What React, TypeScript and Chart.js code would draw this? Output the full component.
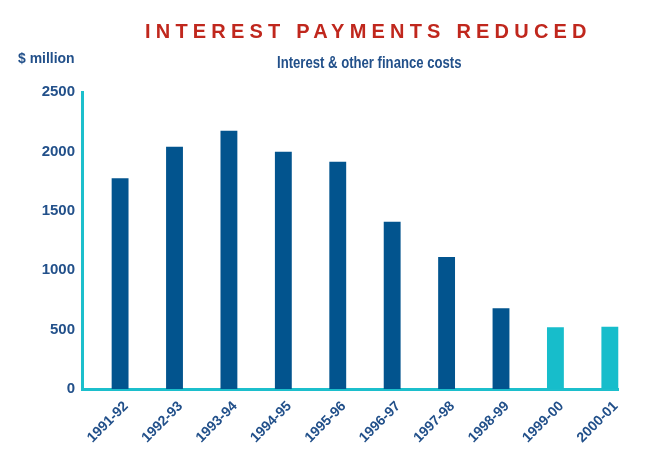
import React, { useEffect, useRef } from "react";
import { Chart, registerables } from "chart.js";

Chart.register(...registerables);

const categories = [
  "1991-92", "1992-93", "1993-94", "1994-95", "1995-96",
  "1996-97", "1997-98", "1998-99", "1999-00", "2000-01",
];
const interestCosts = [1774, 2040, 2174, 1998, 1913, 1408, 1111, 679, 519, 524];
const isEstimate = [false, false, false, false, false, false, false, false, true, true];
const yTickValues = [0, 500, 1000, 1500, 2000, 2500];

const titleText = "INTEREST PAYMENTS REDUCED";
const subtitleText = "Interest & other finance costs";
const unitText = "$ million";

const DARK = "#02548E";
const CYAN = "#17BDCB";
const AXIS = "#1CBFCC";
const NAVY = "#22508A";
const RED = "#C0271D";
const FONT = '"Liberation Sans", Arial, sans-serif';

const headerPlugin = {
  id: "headerText",
  afterDraw(chart: any) {
    const ctx = chart.ctx as CanvasRenderingContext2D;
    ctx.save();
    ctx.textAlign = "left";
    ctx.textBaseline = "alphabetic";
    ctx.fillStyle = RED;
    ctx.font = `bold 20px ${FONT}`;
    (ctx as any).letterSpacing = "5.2px";
    ctx.fillText(titleText, 145, 38);
    (ctx as any).letterSpacing = "0px";
    ctx.fillStyle = NAVY;
    // condensed look: squeeze horizontally
    ctx.save();
    ctx.translate(277, 68);
    ctx.scale(0.82, 1);
    ctx.font = `bold 16px ${FONT}`;
    ctx.fillText(subtitleText, 0, 0);
    ctx.restore();
    ctx.save();
    ctx.translate(18, 63);
    ctx.scale(0.93, 1);
    ctx.font = `bold 15px ${FONT}`;
    ctx.fillText(unitText, 0, 0);
    ctx.restore();
    ctx.restore();
  },
};

export default function App() {
  const canvasRef = useRef<HTMLCanvasElement | null>(null);

  useEffect(() => {
    if (!canvasRef.current) return;
    const chart = new Chart(canvasRef.current, {
      type: "bar",
      data: {
        datasets: [
          {
            data: categories.map((_, i) => ({ x: i, y: interestCosts[i] })) as any,
            backgroundColor: isEstimate.map((e) => (e ? CYAN : DARK)),
            borderWidth: 0,
            barPercentage: 0.31,
            categoryPercentage: 1,
            clip: false as any,
          },
        ],
      },
      options: {
        animation: false,
        responsive: false,
        maintainAspectRatio: false,
        devicePixelRatio: 1,
        layout: { padding: { top: 92, right: 44, left: 0, bottom: 0 } },
        plugins: {
          legend: { display: false },
          title: { display: false },
          tooltip: { enabled: false },
        },
        scales: {
          x: {
            type: "linear",
            offset: false,
            min: -0.7,
            max: 9.15,
            grid: { display: false, drawTicks: false, offset: false },
            border: { display: true, color: AXIS, width: 3 },
            afterBuildTicks: (s: any) => {
              s.ticks = categories.map((_, i) => ({ value: i }));
            },
            afterFit: (s: any) => {
              s.height = 73;
            },
            ticks: {
              autoSkip: false,
              minRotation: 45,
              maxRotation: 45,
              padding: 9,
              labelOffset: 6,
              color: NAVY,
              font: { family: FONT, size: 14, weight: "bold" },
              callback: (v: any) => categories[Math.round(Number(v))] ?? "",
            },
          },
          y: {
            min: 0,
            max: 2500,
            grid: { display: false, drawTicks: false },
            border: { display: true, color: AXIS, width: 3 },
            afterBuildTicks: (s: any) => {
              s.ticks = yTickValues.map((v) => ({ value: v }));
            },
            afterFit: (s: any) => {
              s.width = 82;
            },
            ticks: {
              padding: 7,
              color: NAVY,
              font: { family: FONT, size: 15, weight: "bold" },
              callback: (v: any) => String(v),
            },
          },
        },
      } as any,
      plugins: [headerPlugin],
    });
    return () => chart.destroy();
  }, []);

  return (
    <div style={{ position: "fixed", left: 0, top: 0, width: 662, height: 462, background: "#fff" }}>
      <canvas ref={canvasRef} width={662} height={462} style={{ width: 662, height: 462 }} />
    </div>
  );
}
